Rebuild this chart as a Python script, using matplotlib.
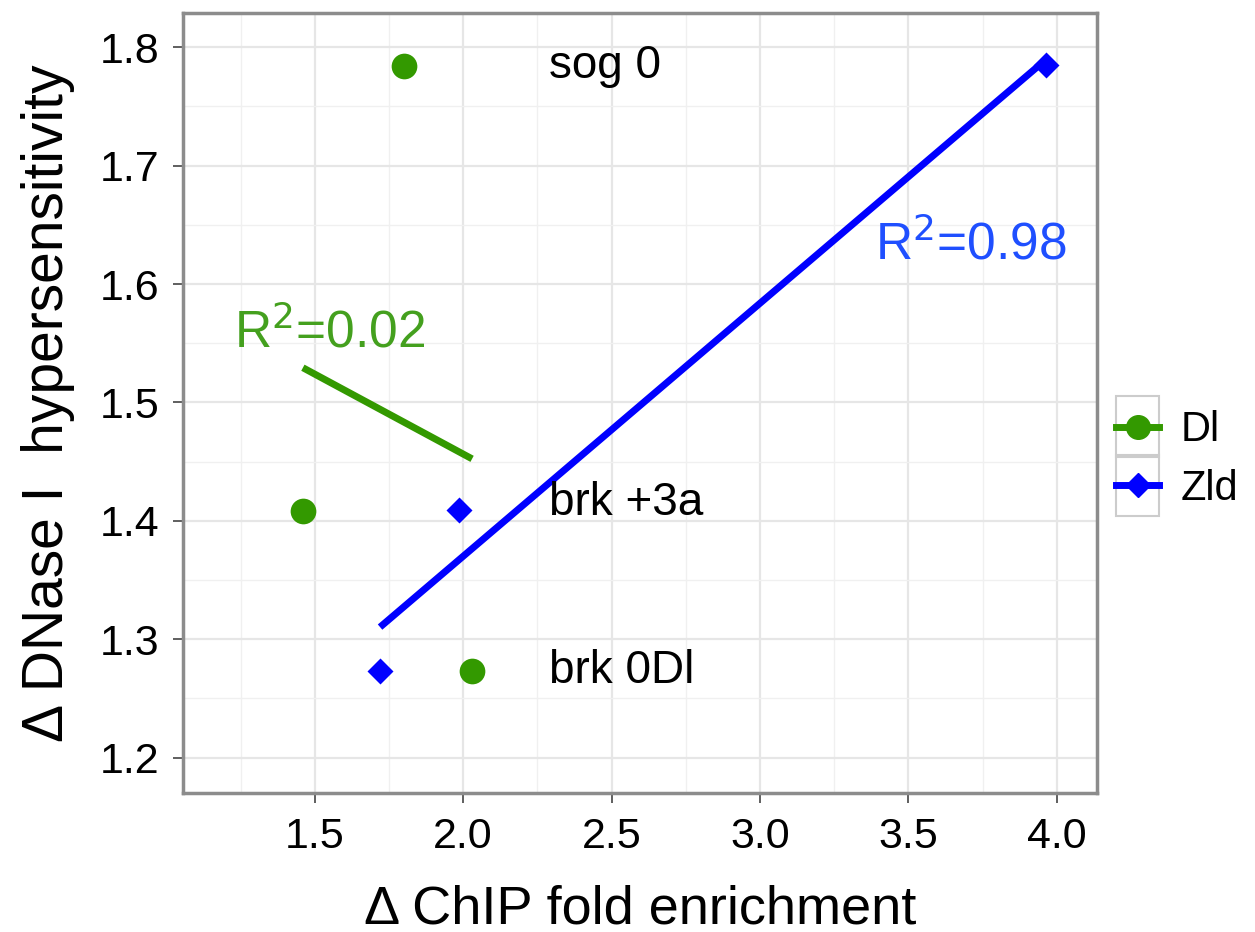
import numpy as np
import matplotlib.pyplot as plt
from matplotlib.lines import Line2D
from matplotlib.patches import Rectangle
from matplotlib.legend_handler import HandlerLine2D
from matplotlib.ticker import MultipleLocator

# values
dl_x = [1.80, 1.46, 2.03]
dl_y = [1.784, 1.408, 1.273]
zld_x = [3.965, 1.985, 1.72]
zld_y = [1.785, 1.409, 1.273]
labels = ['sog 0', 'brk +3a', 'brk 0Dl']
label_y = [1.784, 1.415, 1.273]

green = '#339900'
blue = '#0000ff'

plt.rcParams['font.family'] = ['Liberation Sans', 'DejaVu Sans']


# legend key with a grey box around it, like ggplot
class BoxedKey(HandlerLine2D):
    def create_artists(self, legend, orig_handle, xdescent, ydescent,
                       width, height, fontsize, trans):
        arts = super().create_artists(legend, orig_handle, xdescent, ydescent,
                                      width, height, fontsize, trans)
        pad = height * 0.55
        box = Rectangle((-xdescent, -ydescent - pad), width, height + 2 * pad,
                        fc='none', ec='#cccccc', lw=1.5, transform=trans)
        return [box] + arts


fig = plt.figure(figsize=(12.55, 9.32), dpi=100)
ax = fig.add_axes([0.1458, 0.1491, 0.7282, 0.8370])

ax.set_xlim(1.056, 4.135)
ax.set_ylim(1.170, 1.829)

ax.xaxis.set_major_locator(MultipleLocator(0.5))
ax.xaxis.set_minor_locator(MultipleLocator(0.25))
ax.yaxis.set_major_locator(MultipleLocator(0.1))
ax.yaxis.set_minor_locator(MultipleLocator(0.05))
ax.grid(which='major', color='#e6e6e6', lw=1.6, zorder=0)
ax.grid(which='minor', color='#f0f0f0', lw=1.0, zorder=0)
ax.set_axisbelow(True)
ax.tick_params(which='minor', length=0)
ax.tick_params(which='major', length=7, width=1.2, color='#444444',
               labelsize=31, pad=10)
ax.set_yticks(ax.get_yticks())
ax.set_yticklabels(['%.1f' % v for v in ax.get_yticks()])
ax.set_ylim(1.170, 1.829)
for s in ax.spines.values():
    s.set_color('#8c8c8c')
    s.set_linewidth(2.5)

# regression lines (lm fits)
for xs, ys, c in [(dl_x, dl_y, green), (zld_x, zld_y, blue)]:
    k, b = np.polyfit(xs, ys, 1)
    xx = np.array([min(xs), max(xs)])
    ax.plot(xx, k * xx + b, color=c, lw=5, solid_capstyle='butt', zorder=2)

ax.plot(dl_x, dl_y, 'o', color=green, ms=18.5, mec='none', zorder=3)
ax.plot(zld_x, zld_y, 'D', color=blue, ms=13, mec='none', zorder=3)

for t, y in zip(labels, label_y):
    ax.text(2.29, y, t, fontsize=33, va='center', ha='left')

ax.text(1.55, 1.559, 'R$^2$=0.02', color='#44a01e', fontsize=37,
        ha='center', va='center')
ax.text(3.71, 1.633, 'R$^2$=0.98', color='#1f4fff', fontsize=37,
        ha='center', va='center')

ax.set_xlabel('\u0394 ChIP fold enrichment', fontsize=39, labelpad=20)
ax.set_ylabel('\u0394 DNase I  hypersensitivity', fontsize=41, labelpad=18)

handles = [Line2D([], [], color=green, marker='o', ms=17, lw=5),
           Line2D([], [], color=blue, marker='D', ms=12, lw=5)]
fig.legend(handles, ['Dl', 'Zld'], loc='center left',
           bbox_to_anchor=(0.889, 0.507), frameon=False, fontsize=30,
           handlelength=1.05, handletextpad=0.5, labelspacing=0.45,
           borderpad=0, borderaxespad=0,
           handler_map={Line2D: BoxedKey()})

fig.savefig('out.png', dpi=100)
